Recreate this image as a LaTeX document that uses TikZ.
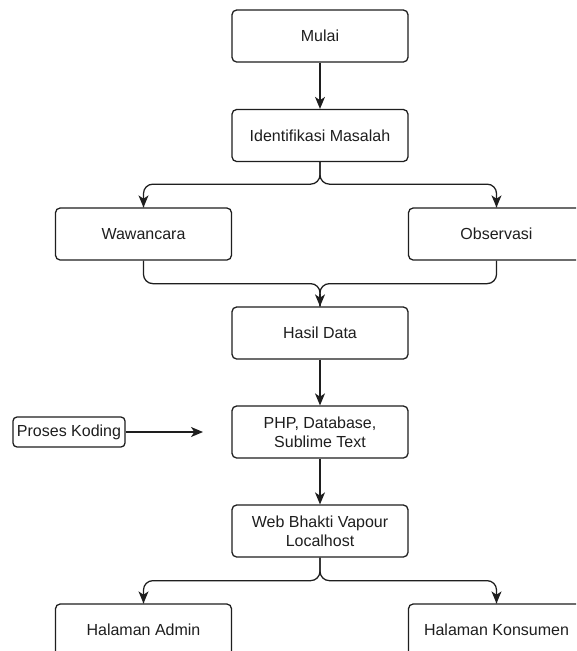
\documentclass[tikz,border=0pt]{standalone}
\usepackage{fontspec}
\setmainfont{Liberation Sans}
\usetikzlibrary{arrows.meta}
\definecolor{ink}{HTML}{1E1E1E}
\tikzset{
  box/.style={draw=ink, line width=0.95pt, rounded corners=3.5pt, fill=white,
    minimum width=132pt, minimum height=39pt, align=center, inner sep=2pt,
    font=\fontsize{12pt}{14.3pt}\selectfont, text=ink},
  smallbox/.style={draw=ink, line width=0.95pt, rounded corners=3pt, fill=white,
    minimum width=84pt, minimum height=22.5pt, inner sep=1pt,
    font=\fontsize{12pt}{14.5pt}\selectfont, text=ink},
  conn/.style={draw=ink, line width=0.95pt,
    -{Stealth[length=9pt,width=7.5pt,inset=2.5pt]}},
  link/.style={draw=ink, line width=0.95pt, rounded corners=7pt}
}
\begin{document}
\begin{tikzpicture}[x=0.75pt,y=-0.75pt]
\useasboundingbox (0,0) rectangle (576,651);
\clip (0,0) rectangle (576,651);
\fill[white] (0,0) rectangle (576,651);
\node[box] (mu) at (320,36) {Mulai};
\node[box] (id) at (320,135.5) {Identifikasi Masalah};
\node[box] (ww) at (143.5,234) {Wawancara};
\node[box] (ob) at (496.5,234) {Observasi};
\node[box] (hd) at (320,333) {Hasil Data};
\node[box] (php) at (320,432) {PHP, Database,\\Sublime Text};
\node[box] (web) at (320,531) {Web Bhakti Vapour\\Localhost};
\node[box] (ha) at (143.5,630) {Halaman Admin};
\node[box] (hk) at (496.5,630) {Halaman Konsumen};
\node[smallbox] (pk) at (69,432) {Proses Koding};
\coordinate (pkend) at (203,432);

\draw[conn] (mu.south) -- (id.north);
\draw[link] (id.south) -- ++(0,22) -| (ww.north);
\draw[link] (id.south) -- ++(0,22) -| (ob.north);
\draw[conn] ([yshift=9pt]ww.north) -- (ww.north);
\draw[conn] ([yshift=9pt]ob.north) -- (ob.north);
\draw[link] (ww.south) -- ++(0,23) -| (hd.north);
\draw[link] (ob.south) -- ++(0,23) -| (hd.north);
\draw[conn] ([yshift=9pt]hd.north) -- (hd.north);
\draw[conn] (hd.south) -- (php.north);
\draw[conn] (php.south) -- (web.north);
\draw[link] (web.south) -- ++(0,23) -| (ha.north);
\draw[link] (web.south) -- ++(0,23) -| (hk.north);
\draw[conn] ([yshift=9pt]ha.north) -- (ha.north);
\draw[conn] ([yshift=9pt]hk.north) -- (hk.north);
\draw[conn] (pk.east) -- (pkend);
\end{tikzpicture}
\end{document}
